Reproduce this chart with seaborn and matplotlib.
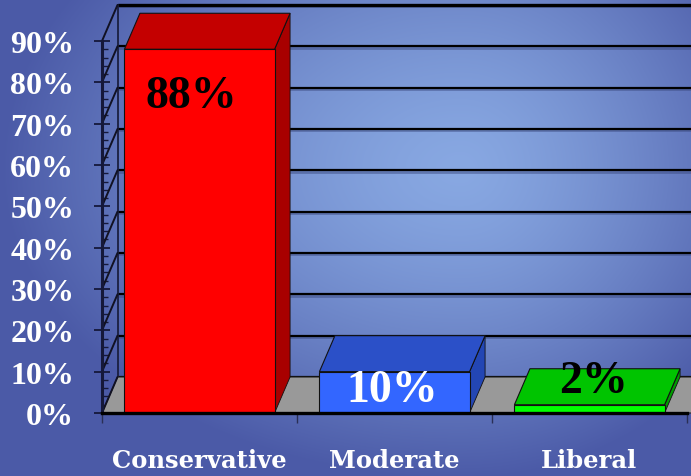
import numpy as np
import matplotlib
matplotlib.use("Agg")
import matplotlib.pyplot as plt
from matplotlib.patches import Polygon
from matplotlib.ticker import MultipleLocator, FixedLocator
import seaborn as sns

# --- data -------------------------------------------------------------
categories = ["Conservative", "Moderate", "Liberal"]
values = [88, 10, 2]
value_labels = ["88%", "10%", "2%"]
y_ticks = [0, 10, 20, 30, 40, 50, 60, 70, 80, 90]
y_tick_labels = [f"{v}%" for v in y_ticks]

# --- styling ----------------------------------------------------------
front_colors = ["#ff0000", "#3366ff", "#00ff00"]
top_colors = ["#c40000", "#2b50c8", "#00c400"]
side_colors = ["#a80000", "#2346b4", "#009c00"]
label_colors = ["black", "white", "black"]
label_offsets = [(-6, -34), (-2, -13), (3, 17)]   # points, relative to bar top centre

NUM_FONT = "Liberation Serif"
CAT_FONT = "DejaVu Serif"

W, H, DPI = 691, 477, 100
sns.set_theme(style="white")
plt.rcParams["font.family"] = [NUM_FONT, "DejaVu Serif"]

fig = plt.figure(figsize=(W / DPI, H / DPI), dpi=DPI)

# radial blue backdrop
bg = fig.add_axes([0, 0, 1, 1], zorder=-10)
yy, xx = np.mgrid[0:H, 0:W].astype(float)
cx, cy = 460.0, 170.0
rx = np.where(xx < cx, 460.0, 330.0)
ry = np.where(yy < cy, 330.0, 310.0)
t = np.clip(np.sqrt(((xx - cx) / rx) ** 2 + ((yy - cy) / ry) ** 2), 0, 1) ** 1.4
c_in = np.array([0x88, 0xa8, 0xe2]) / 255.0
c_out = np.array([0x4b, 0x5a, 0xa7]) / 255.0
img = c_in[None, None, :] * (1 - t[..., None]) + c_out[None, None, :] * t[..., None]
bg.imshow(img, aspect="auto", extent=[0, W, H, 0])
bg.set_axis_off()

# front plane of the chart
ax = fig.add_axes([102 / W, (H - 414) / H, 585 / W, 372 / H])
ax.set_facecolor("none")
ax.set_xlim(-0.5, 2.5)
ax.set_ylim(0, 90)

# depth offset of the 3-D box, in data units
DX = 15.5 / 195.0
DY = 36.0 / (372.0 / 90.0)

x_left, x_right = -0.5, 2.5
# back wall gridlines
for v in y_ticks:
    lw = 2.4 if v == y_ticks[-1] else 1.6
    ax.plot([x_left + DX, x_right + DX + 0.2], [v + DY - 0.35, v + DY - 0.35],
            color="#3b4a80", lw=2.0, alpha=0.5, clip_on=False, zorder=1)
    ax.plot([x_left + DX, x_right + DX + 0.2], [v + DY, v + DY],
            color="black", lw=lw, clip_on=False, zorder=1.1)
# back wall left edge
ax.plot([x_left + DX, x_left + DX], [DY, y_ticks[-1] + DY], color="#1a1f40",
        lw=1.3, clip_on=False, zorder=1.2)
# side wall diagonals
for v in y_ticks:
    ax.plot([x_left, x_left + DX], [v, v + DY], color="#111122", lw=1.4,
            clip_on=False, zorder=2.5)

# floor
floor = Polygon([(x_left, 0), (x_right + 0.3, 0), (x_right + 0.3 + DX, DY),
                 (x_left + DX, DY)], closed=True, facecolor="#999999",
                edgecolor="#222222", lw=0.8, clip_on=False, zorder=2)
ax.add_patch(floor)

# front faces of the bars
sns.barplot(x=categories, y=values, hue=categories, palette=front_colors,
            width=0.77, legend=False, ax=ax, edgecolor="#111111",
            linewidth=0.8, saturation=1)

bars = sorted([p for p in ax.patches if p is not floor], key=lambda p: p.get_x())
for i, p in enumerate(bars):
    p.set_zorder(4)
    x0, w, h = p.get_x(), p.get_width(), p.get_height()
    side = Polygon([(x0 + w, 0), (x0 + w + DX, DY), (x0 + w + DX, h + DY),
                    (x0 + w, h)], closed=True, facecolor=side_colors[i],
                   edgecolor="#111111", lw=0.6, zorder=3, clip_on=False)
    top = Polygon([(x0, h), (x0 + w, h), (x0 + w + DX, h + DY), (x0 + DX, h + DY)],
                  closed=True, facecolor=top_colors[i], edgecolor="#111111",
                  lw=0.8, zorder=3.5, clip_on=False)
    ax.add_patch(side)
    ax.add_patch(top)
    ax.annotate(value_labels[i], xy=(x0 + w / 2, h), xytext=label_offsets[i],
                textcoords="offset points", ha="center", va="center",
                fontsize=33, fontweight="bold", family=NUM_FONT,
                color=label_colors[i], zorder=6, annotation_clip=False)

# axes, ticks and labels
for s in ["top", "right"]:
    ax.spines[s].set_visible(False)
ax.spines["left"].set_color("#15183a")
ax.spines["left"].set_linewidth(2.2)
ax.spines["bottom"].set_color("black")
ax.spines["bottom"].set_linewidth(2.4)
ax.spines["left"].set_zorder(5)
ax.spines["bottom"].set_zorder(5)

ax.yaxis.set_major_locator(FixedLocator(y_ticks))
ax.set_yticklabels(y_tick_labels)
ax.yaxis.set_minor_locator(MultipleLocator(2))
ax.tick_params(axis="y", which="major", direction="inout", length=12, width=1.3,
               color="#15183a", pad=14, left=True, labelsize=23,
               labelcolor="white")
ax.tick_params(axis="y", which="minor", direction="in", length=4.5, width=1.0,
               color="#15183a", left=True)
for lab in ax.get_yticklabels():
    lab.set_fontweight("bold")
    lab.set_family(NUM_FONT)

ax.xaxis.set_minor_locator(FixedLocator([-0.5, 0.5, 1.5, 2.5]))
ax.tick_params(axis="x", which="major", length=0, pad=25, labelsize=17.5,
               labelcolor="white", bottom=True)
ax.tick_params(axis="x", which="minor", direction="out", length=7, width=1.0,
               color="#2a2f55", bottom=True)
for lab in ax.get_xticklabels():
    lab.set_fontweight("bold")
    lab.set_family(CAT_FONT)
ax.set_xlabel("")
ax.set_ylabel("")

fig.savefig("out.png", dpi=DPI)
